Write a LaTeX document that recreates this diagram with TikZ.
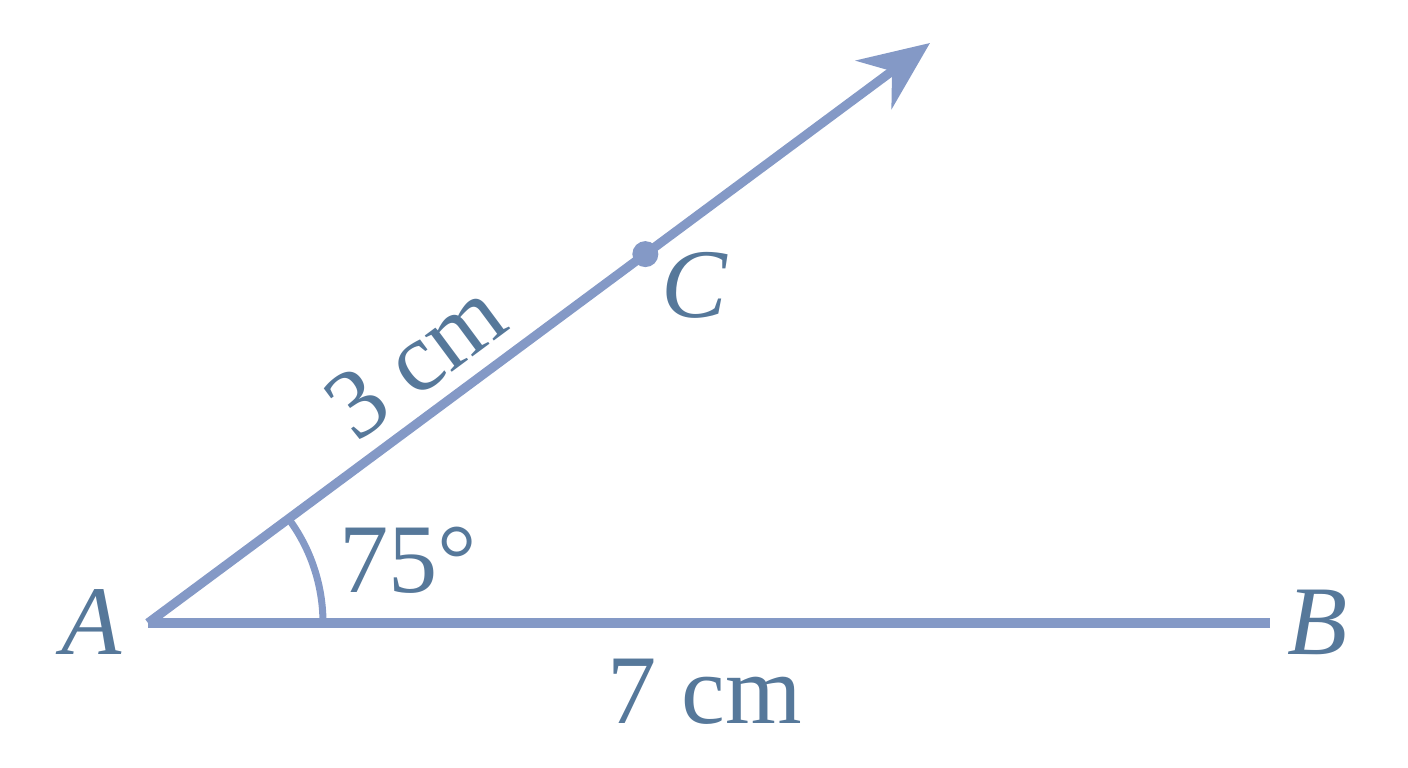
\documentclass[tikz,border=0pt]{standalone}
\usepackage{fontspec}
\setmainfont{Liberation Serif}
\usepackage{xcolor}
\usetikzlibrary{arrows.meta, calc, positioning}
\definecolor{rayblue}{HTML}{8499C6}
\definecolor{inkblue}{HTML}{56789A}
\newcommand{\lblsize}{\fontsize{28}{32}\selectfont}

\begin{document}
\begin{tikzpicture}[
    line/.style={draw=rayblue, line width=2.6pt},
    lbl/.style={text=inkblue, font=\lblsize, inner sep=0pt}
  ]
  \useasboundingbox (0, 0) rectangle (14.08, -7.68);

  \coordinate (A) at (1.48, -6.23);
  \coordinate (B) at (12.70, -6.23);
  \coordinate (T) at (9.30, -0.43);
  \coordinate (C) at ($(A)!0.636!(T)$);

  \draw[line] (A) -- (B);
  \draw[line, -{Stealth[length=7mm, width=6mm]}] (A) -- (T);
  \draw[draw=rayblue, line width=2pt] ($(A)+(1.75, 0)$) arc[start angle=0, end angle=36.6, radius=1.75];
  \fill[rayblue] (C) circle (0.13);

  \node[lbl] (a) at (0.92, -6.22) {\textit{A}};
  \node[lbl] (b) at (13.18, -6.22) {\textit{B}};
  \node[lbl] (c) at (6.95, -2.85) {\textit{C}};
  \node[lbl, rotate=36.6] (ac) at (4.15, -3.60) {3 cm};
  \node[lbl] (ang) at (4.08, -5.60) {75°};
  \node[lbl] (ab) at (7.05, -6.92) {7 cm};
\end{tikzpicture}
\end{document}
